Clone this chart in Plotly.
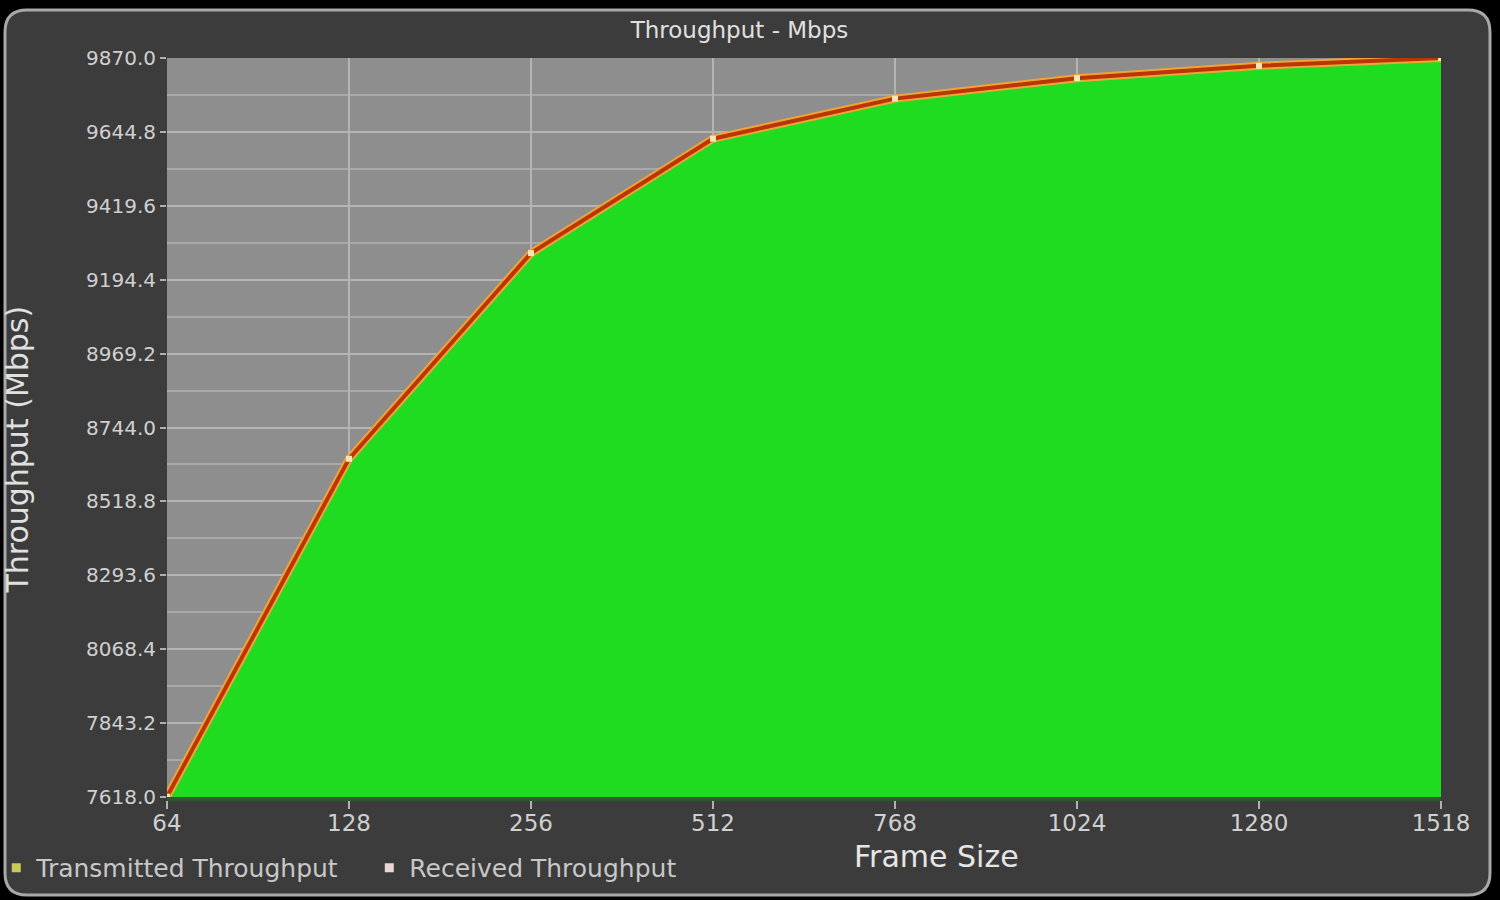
import plotly.graph_objects as go

frame_sizes = ["64", "128", "256", "512", "768", "1024", "1280", "1518"]
transmitted = [7619.0, 8648.6, 9275.4, 9624.1, 9746.2, 9808.4, 9846.2, 9869.9]
received = [7619.0, 8648.6, 9275.4, 9624.1, 9746.2, 9808.4, 9846.2, 9869.9]
y_tick_vals = [7618.0, 7843.2, 8068.4, 8293.6, 8518.8, 8744.0, 8969.2, 9194.4, 9419.6, 9644.8, 9870.0]
y_tick_text = ["7618.0", "7843.2", "8068.4", "8293.6", "8518.8", "8744.0", "8969.2", "9194.4", "9419.6", "9644.8", "9870.0"]

FONT = "DejaVu Sans"
TXT = "#d6d6d6"

fig = go.Figure()
fig.add_trace(go.Scatter(
    x=frame_sizes, y=transmitted, name="Transmitted Throughput", mode="lines",
    fill="tozeroy", fillcolor="#20dc20",
    line=dict(color="#f0a438", width=8), showlegend=False))
fig.add_trace(go.Scatter(
    x=frame_sizes, y=received, name="Received Throughput", mode="lines+markers",
    line=dict(color="#bb3606", width=4),
    marker=dict(symbol="square", size=6, color="#f4e6b8"), showlegend=False))
# legend entries
fig.add_trace(go.Scatter(x=[None], y=[None], name="Transmitted Throughput", mode="markers",
                         marker=dict(symbol="square", size=9, color="#c8c858")))
fig.add_trace(go.Scatter(x=[None], y=[None], name="Received Throughput", mode="markers",
                         marker=dict(symbol="square", size=9, color="#ead6d6")))

# rounded panel path in pixels relative to plot-area bottom-left
x0, x1, y0, y1, r = -162, 1323, -98, 787, 22
panel = (f"M {x0+r},{y0} L {x1-r},{y0} Q {x1},{y0} {x1},{y0+r} L {x1},{y1-r} "
         f"Q {x1},{y1} {x1-r},{y1} L {x0+r},{y1} Q {x0},{y1} {x0},{y1-r} "
         f"L {x0},{y0+r} Q {x0},{y0} {x0+r},{y0} Z")

fig.update_layout(
    width=1500, height=900,
    paper_bgcolor="#000000", plot_bgcolor="#8e8e8e",
    margin=dict(l=167, r=59, t=58, b=103, autoexpand=False),
    font=dict(family=FONT, color=TXT),
    title=dict(text="Throughput - Mbps", x=0.493, xanchor="center", y=0.967, yanchor="middle",
               font=dict(size=23, color="#e0e0e0")),
    shapes=[
        dict(type="path", path=panel, xref="paper", yref="paper", xsizemode="pixel", ysizemode="pixel",
             xanchor=0, yanchor=0, fillcolor="#3c3c3c", line=dict(color="#a8a8a8", width=3), layer="below"),
        dict(type="rect", xref="paper", yref="paper", x0=0, x1=1, y0=0, y1=1,
             fillcolor="#8e8e8e", line=dict(width=0), layer="below"),
    ],
    xaxis=dict(type="category", range=[0, 7], showgrid=True, gridcolor="#b4b4b4", gridwidth=2,
               ticks="outside", ticklen=8, tickcolor="#b0b0b0", tickwidth=2, ticklabelstandoff=-6,
               tickfont=dict(size=23, color="#d0d0d0"), showline=True, linecolor="#2c5a2c", linewidth=4,
               zeroline=False),
    yaxis=dict(range=[7618.0, 9870.0], tickmode="array", tickvals=y_tick_vals, ticktext=y_tick_text,
               showgrid=True, gridcolor="#b4b4b4", gridwidth=2, zeroline=False,
               ticks="outside", ticklen=6, tickcolor="#b0b0b0", tickwidth=2,
               tickfont=dict(size=20, color="#d0d0d0"),
               minor=dict(tickmode="linear", tick0=7618.0, dtick=112.6, showgrid=True,
                          gridcolor="#a8a8a8", gridwidth=2, ticks="")),
    legend=dict(orientation="h", x=-0.134, xanchor="left", y=-0.096, yanchor="middle",
                font=dict(size=25, color="#c8c8c8"), itemwidth=30, entrywidth=328,
                bgcolor="rgba(0,0,0,0)"),
    annotations=[
        dict(text="Frame Size", xref="paper", yref="paper", x=0.604, y=-0.081, showarrow=False,
             xanchor="center", yanchor="middle", font=dict(size=30, color="#e6e6e6")),
        dict(text="Throughput (Mbps)", xref="paper", yref="paper", x=-0.117, y=0.47, showarrow=False,
             textangle=-90, xanchor="center", yanchor="middle", font=dict(size=30, color="#e0e0e0")),
    ],
)

fig.write_html("out.html", config={"displayModeBar": False},
               post_script="document.body.style.margin='0';document.body.style.background='#000';"
                           "document.body.style.overflow='hidden';")
